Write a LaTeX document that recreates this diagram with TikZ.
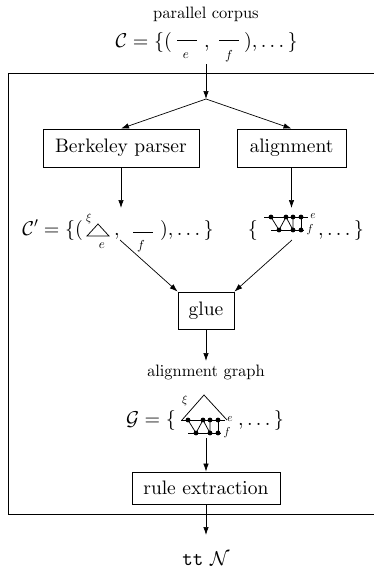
\RequirePackage{fix-cm}
\documentclass[tikz,border=0pt]{standalone}
\usepackage[OT1]{fontenc}
\renewcommand{\rmdefault}{cmr}
\renewcommand{\ttdefault}{cmtt}
\usepackage{amsmath}
\usetikzlibrary{arrows.meta}
\DeclareFontShape{OT1}{cmr}{m}{n}{<-> cmr10}{}
\DeclareFontShape{OML}{cmm}{m}{it}{<-> cmmi10}{}
\DeclareFontShape{OT1}{cmtt}{m}{n}{<-> cmtt10}{}
\tikzset{
  boxnode/.style={draw, line width=0.8pt, font=\fontsize{19.5}{23}\selectfont, inner sep=0pt, minimum height=38pt},
  lbl/.style={font=\fontsize{16.5}{19}\selectfont, inner sep=0pt},
  mrow/.style={font=\fontsize{20}{24}\selectfont, inner sep=0pt},
  subl/.style={font=\fontsize{13}{15}\selectfont, inner sep=0pt},
  tinyl/.style={font=\fontsize{11.5}{13}\selectfont, inner sep=0pt},
  arr/.style={-{Latex[length=8pt,width=5.5pt]}, line width=0.7pt},
  thin/.style={line width=0.75pt},
  aglyph/.pic={
    \draw[thin] (-7,0) -- (37,0);
    \draw[thin] (0,13) -- (33,13);
    \draw[thin] (0,0) -- (8,13) -- (15,0) -- (22,13) -- (22,0);
    \draw[thin] (30,0) -- (30,13);
    \foreach \p in {(0,0),(15,0),(22,0),(30,0),(8,13),(22,13),(30,13)}
      \fill \p circle (2.4pt);
    \node[tinyl] (-e) at (42,-1) {$e$};
    \node[tinyl] (-f) at (39,13) {$f$};
  }
}
\begin{document}
\begin{tikzpicture}[x=1pt, y=-1pt]
\useasboundingbox (0,0) rectangle (374,573);

% outer frame
\draw[line width=0.8pt] (8,73) rectangle (377,514);

% top: parallel corpus
\node[lbl] (pc) at (206,14) {parallel corpus};
\node[mrow, anchor=base east] (c0) at (172,47) {$\mathcal{C} = \{($};
\draw[thin] (177,40) -- (197,40);
\node[subl] (c0e) at (186,56) {$e$};
\node[mrow, anchor=base] (c0c) at (207,47) {$,$};
\draw[thin] (219,40) -- (239,40);
\node[subl] (c0f) at (229,56) {$f$};
\node[mrow, anchor=base west] (c0r) at (244,47) {$),\ldots\,\}$};

\coordinate (cin) at (206,64);
\coordinate (split) at (206,99);

% boxes
\node[boxnode, minimum width=156pt] (bp) at (121,148) {Berkeley parser};
\node[boxnode, minimum width=109pt] (al) at (291.5,148) {alignment};
\node[boxnode, minimum width=56pt, minimum height=37pt] (gl) at (206,310.5) {glue};
\node[boxnode, minimum width=148pt, minimum height=32pt] (re) at (206,488) {rule extraction};

\draw[arr] (cin) -- (split);
\draw[arr] (split) -- (bp.north);
\draw[arr] (split) -- (al.north);

\coordinate (cpin) at (121,208);
\coordinate (cqin) at (291.5,208);
\draw[arr] (bp.south) -- (cpin);
\draw[arr] (al.south) -- (cqin);

% C' row left
\node[mrow, anchor=base east] (cp0) at (83,235) {$\mathcal{C}'=\{($};
\draw[thin] (87,236) -- (98,224) -- (109,236) -- cycle;
\node[tinyl] (cpxi) at (89,219) {$\xi$};
\node[subl] (cpe) at (102,246) {$e$};
\node[mrow, anchor=base] (cpc) at (117,235) {$,$};
\draw[thin] (133,232) -- (153,232);
\node[subl] (cpf) at (141,246) {$f$};
\node[mrow, anchor=base west] (cp1) at (160,235) {$),\ldots\,\}$};

% C' row right
\node[mrow, anchor=base east] (cq0) at (258,235) {$\{$};
\pic (ga) at (271,217) {aglyph};
\node[mrow, anchor=base west] (cq1) at (318,235) {$,\ldots\,\}$};

\coordinate (cpa) at (120,240);
\coordinate (cqa) at (292,240);
\draw[arr] (cpa) -- (gl.north west);
\draw[arr] (cqa) -- (gl.north east);

% alignment graph
\coordinate (aglin) at (206,361);
\draw[arr] (gl.south) -- (aglin);
\node[lbl] (agl) at (206,372) {alignment graph};

\node[mrow, anchor=base east] (g0) at (176,425) {$\mathcal{G} = \{$};
\draw[thin] (182,420) -- (204,395) -- (227,420);
\node[tinyl] (gxi) at (185,401) {$\xi$};
\pic (gb) at (188,420) {aglyph};
\node[mrow, anchor=base west] (g1) at (238,425) {$,\ldots\,\}$};

\coordinate (gout) at (206,438);
\draw[arr] (gout) -- (re.north);

\coordinate (outin) at (206,535);
\draw[arr] (re.south) -- (outin);
\node[font=\fontsize{20}{24}\selectfont, inner sep=0pt] (out) at (206,559) {\texttt{tt}~$\mathcal{N}$};
\end{tikzpicture}
\end{document}
